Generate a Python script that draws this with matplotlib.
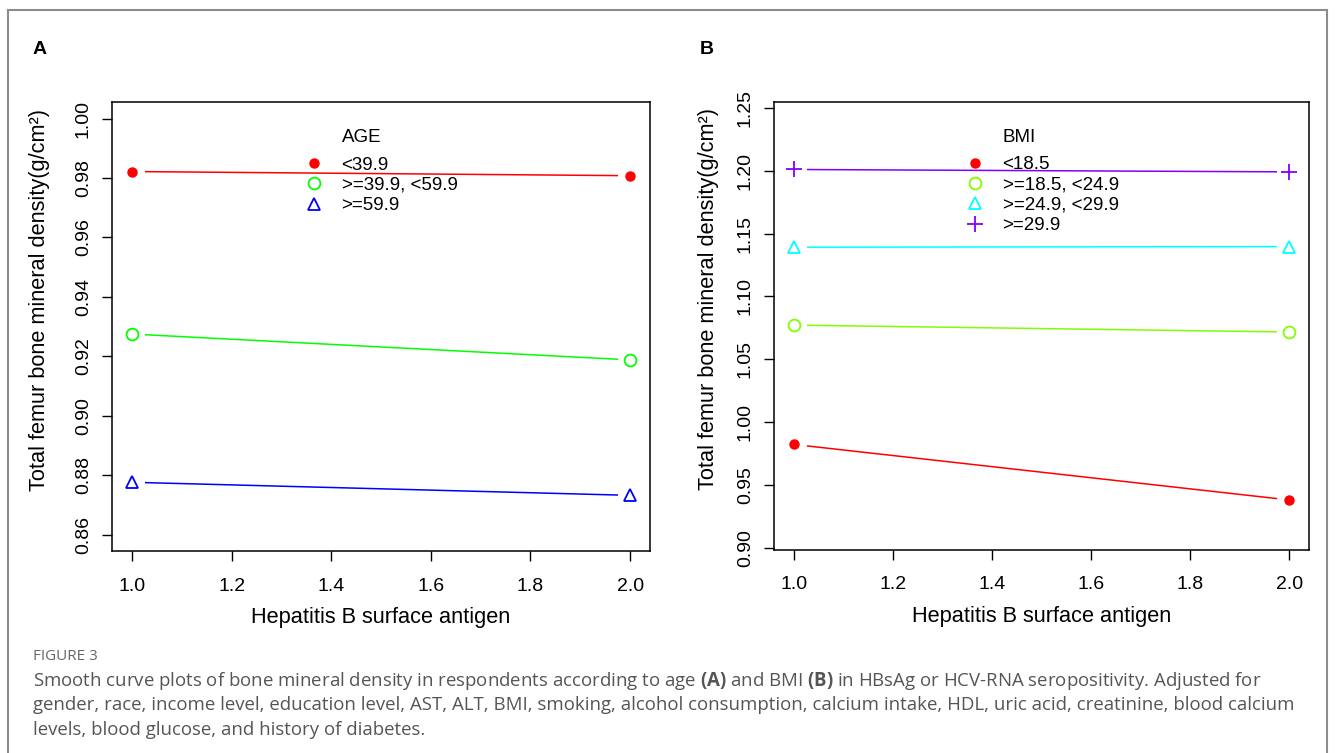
import matplotlib
matplotlib.use('Agg')
import matplotlib.pyplot as plt
from matplotlib.lines import Line2D
import numpy as np

plt.rcParams['font.family'] = ['Liberation Sans', 'DejaVu Sans']
plt.rcParams['mathtext.fontset'] = 'custom'
plt.rcParams['mathtext.rm'] = 'Open Sans'
plt.rcParams['mathtext.bf'] = 'Open Sans:bold'

# Panel A: by age group
hbsag = [1.0, 2.0]
age_labels = ['<39.9', '>=39.9, <59.9', '>=59.9']
age_vals = [
    [0.9822, 0.9808],
    [0.9275, 0.9188],
    [0.8776, 0.8732],
]
age_colors = ['#FF0000', '#00FF00', '#0000FF']
age_markers = ['o', 'o', '^']
age_filled = [True, False, False]

# Panel B: by BMI group
bmi_labels = ['<18.5', '>=18.5, <24.9', '>=24.9, <29.9', '>=29.9']
bmi_vals = [
    [0.9822, 0.9380],
    [1.0772, 1.0717],
    [1.1392, 1.1397],
    [1.2011, 1.1992],
]
bmi_colors = ['#FF0000', '#80FF00', '#00FFFF', '#8000FF']
bmi_markers = ['o', 'o', '^', '+']
bmi_filled = [True, False, False, True]

xticks = [1.0, 1.2, 1.4, 1.6, 1.8, 2.0]
a_yticks = [0.86, 0.88, 0.90, 0.92, 0.94, 0.96, 0.98, 1.00]
b_yticks = [0.90, 0.95, 1.00, 1.05, 1.10, 1.15, 1.20, 1.25]

fig = plt.figure(figsize=(13.35, 7.53), dpi=100)


def marker_style(m, filled, color):
    if m == '+':
        return dict(marker='+', markersize=11, markeredgewidth=1.3, color=color)
    if m == '^':
        return dict(marker='^', markersize=9, markerfacecolor='none',
                    markeredgecolor=color, markeredgewidth=1.3)
    if filled:
        return dict(marker='o', markersize=6.5, markerfacecolor=color,
                    markeredgecolor=color)
    return dict(marker='o', markersize=8.5, markerfacecolor='none',
                markeredgecolor=color, markeredgewidth=1.3)


def panel(ax, vals, labels, colors, markers, filled, yticks, ylim, title,
          leg_anchor, title_pos, ylab_x):
    handles = []
    for v, c, m, f in zip(vals, colors, markers, filled):
        ax.plot(hbsag, v, color=c, lw=1.1, zorder=2)
        # R type="b" style gap around points
        ax.plot(hbsag, v, ls='', marker='o', markersize=17, color='white',
                zorder=3)
        ax.plot(hbsag, v, ls='', zorder=4, **marker_style(m, f, c))
        handles.append(Line2D([], [], ls='', **marker_style(m, f, c)))
    ax.set_xlim(0.96, 2.04)
    ax.set_ylim(*ylim)
    ax.set_xticks(xticks)
    ax.set_xticklabels(['%.1f' % t for t in xticks])
    ax.set_yticks(yticks)
    ax.set_yticklabels(['%.2f' % t for t in yticks], rotation=90, va='center')
    ax.tick_params(axis='both', length=7.5, width=1, labelsize=14, direction='out')
    ax.tick_params(axis='x', pad=11.5)
    ax.tick_params(axis='y', pad=7)
    for s in ax.spines.values():
        s.set_linewidth(1.1)
    ax.set_xlabel('Hepatitis B surface antigen', fontsize=15.7, labelpad=9)
    ax.set_ylabel('Total femur bone mineral density(g/cm²)', fontsize=15.7)
    ax.yaxis.set_label_coords(ylab_x, 0.56)
    ax.legend(handles, labels, loc='upper left', bbox_to_anchor=leg_anchor,
              frameon=False, fontsize=13.5, handlelength=1.1, handletextpad=0.9,
              labelspacing=0.17, borderpad=0, borderaxespad=0)
    ax.text(title_pos[0], title_pos[1], title, transform=ax.transAxes,
            fontsize=13.5, ha='left', va='center')


axA = fig.add_axes([0.0839, 0.268, 0.403, 0.5965])
panel(axA, age_vals, age_labels, age_colors, age_markers, age_filled,
      a_yticks, (0.8544, 1.0056), 'AGE', (0.357, 0.879), (0.427, 0.921), -0.115)

axB = fig.add_axes([0.5798, 0.270, 0.4007, 0.5945])
panel(axB, bmi_vals, bmi_labels, bmi_colors, bmi_markers, bmi_filled,
      b_yticks, (0.8984, 1.2548), 'BMI', (0.357, 0.879), (0.427, 0.921), -0.103)

fig.text(33 / 1335, 1 - 50 / 753, 'A', fontsize=14, fontweight='bold', va='center')
fig.text(700 / 1335, 1 - 50 / 753, 'B', fontsize=14, fontweight='bold', va='center')

# outer frame
for xs, ys in [([0.006, 0.006], [0.0, 0.9867]), ([0.006, 0.994], [0.9867, 0.9867]),
               ([0.994, 0.994], [0.9867, 0.0])]:
    fig.add_artist(Line2D(xs, ys, color='#8c8c8c', lw=1.5, transform=fig.transFigure))

cap_color = '#555555'
fig.text(33 / 1335, 1 - 657 / 753, 'FIGURE 3', fontsize=11, color='#666666',
         family='Open Sans', va='center')
caption = [
    r'Smooth curve plots of bone mineral density in respondents according to age $\mathbf{(A)}$ and BMI $\mathbf{(B)}$ in HBsAg or HCV-RNA seropositivity. Adjusted for',
    'gender, race, income level, education level, AST, ALT, BMI, smoking, alcohol consumption, calcium intake, HDL, uric acid, creatinine, blood calcium',
    'levels, blood glucose, and history of diabetes.',
]
for i, line in enumerate(caption):
    fig.text(33 / 1335, 1 - (681 + 24.5 * i) / 753, line, fontsize=13.4,
             color=cap_color, family='Open Sans', va='center')

fig.savefig('out.png', dpi=100)
